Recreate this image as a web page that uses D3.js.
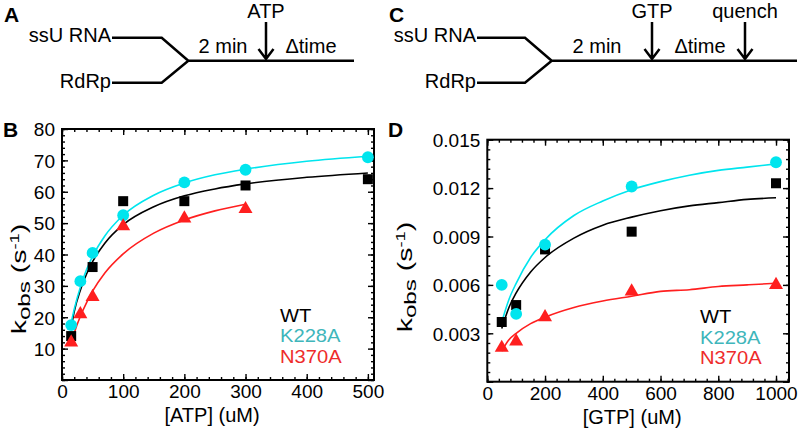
<!DOCTYPE html>
<html><head><meta charset="utf-8">
<script src="https://cdn.jsdelivr.net/npm/d3@7"></script>
<style>
html,body{margin:0;padding:0;background:#fff;}
svg text{font-family:"Liberation Sans",Arial,Helvetica,sans-serif;}
</style></head>
<body>
<svg id="chart" width="800" height="429"></svg>
<script>
// ---------- DATA ----------
const seriesNames = ["WT", "K228A", "N370A"];
// Panel B: [ATP] (uM) vs kobs (s-1)
const atpWT_x = [15, 50, 100, 200, 300, 500];
const atpWT_y = [14, 36, 57, 57, 62, 64];
const atpK228A_x = [15, 30, 50, 100, 200, 300, 500];
const atpK228A_y = [17.5, 31.5, 40.5, 52.5, 63, 67, 71];
const atpN370A_x = [15, 30, 50, 100, 200, 300];
const atpN370A_y = [12, 21, 26.5, 49, 51.5, 54.5];
// fitted curves
const atpFit_x = [15, 20, 30, 40, 50, 70, 100, 150, 200, 250, 300, 400, 500];
const atpFitWT_y = [16.5, 21.8, 28.6, 33.7, 37.7, 43.6, 49.5, 55.2, 58.7, 60.9, 62.5, 64.6, 66.0];
const atpFitK228A_y = [18.3, 22.6, 29.6, 35.1, 39.4, 45.9, 52.5, 58.9, 62.8, 65.4, 67.2, 69.7, 71.3];
const atpFitN370A_x = [15, 20, 30, 40, 50, 70, 100, 150, 200, 250, 300];
const atpFitN370A_y = [11.9, 15.0, 20.3, 24.6, 28.3, 34.1, 40.2, 46.8, 51.0, 53.9, 56.0];
const atpXTicks = [0, 100, 200, 300, 400, 500];
const atpYTicks = [10, 20, 30, 40, 50, 60, 70, 80];

// Panel D: [GTP] (uM) vs kobs (s-1)
const gtp_x = [50, 100, 200, 500, 1000];
const gtpWT_y = [0.0037, 0.00475, 0.0082, 0.0093, 0.0123];
const gtpK228A_y = [0.0060, 0.0042, 0.0085, 0.0121, 0.0136];
const gtpN370A_y = [0.0021, 0.0025, 0.0040, 0.0056, 0.0060];
const gtpFit_x = [50, 75, 100, 150, 200, 300, 400, 500, 600, 700, 800, 900, 1000];
const gtpFitWT_y = [0.0033, 0.0046, 0.0055, 0.0068, 0.0077, 0.0089, 0.0097, 0.0102, 0.0106, 0.0109, 0.0111, 0.0113, 0.0114];
const gtpFitK228A_y = [0.0037, 0.0051, 0.0061, 0.0077, 0.0088, 0.0103, 0.0112, 0.0119, 0.0124, 0.0128, 0.0131, 0.0133, 0.0135];
const gtpFitN370A_y = [0.0019, 0.0026, 0.0030, 0.0036, 0.0040, 0.0046, 0.0050, 0.0053, 0.0056, 0.0057, 0.0059, 0.0060, 0.0061];
const gtpXTicks = [0, 200, 400, 600, 800, 1000];
const gtpYTicks = [0.003, 0.006, 0.009, 0.012, 0.015];

// ---------- STYLE ----------
const colWT = "#000000", colK = "#00e5ee", colN = "#ff1f1f";
const legendCols = ["#000000", "#3fb6bb", "#ee2b2b"];

const svg = d3.select("#chart");
svg.append("rect").attr("width", 800).attr("height", 429).attr("fill", "#fff");

// ---------- SCHEMES (A, C) ----------
function scheme(g, o) {
  const sw = 2.5;
  g.append("text").text(o.letter).attr("x", o.lx).attr("y", 22)
    .attr("font-size", 21).attr("font-weight", "bold");
  g.append("text").text("ssU RNA").attr("x", o.tx).attr("y", 42)
    .attr("text-anchor", "end").attr("font-size", 20);
  g.append("text").text("RdRp").attr("x", o.tx).attr("y", 88)
    .attr("text-anchor", "end").attr("font-size", 20);
  const p = d3.path();
  p.moveTo(o.tx + 1, 37.7); p.lineTo(o.bx, 37.7); p.lineTo(o.jx, 60.7);
  p.moveTo(o.tx + 1, 82.7); p.lineTo(o.bx, 82.7); p.lineTo(o.jx, 60.7);
  p.lineTo(o.ex, 60.7);
  g.append("path").attr("d", p.toString()).attr("fill", "none")
    .attr("stroke", "#000").attr("stroke-width", sw).attr("stroke-linejoin", "miter");
  g.append("text").text("2 min").attr("x", o.minx).attr("y", 53)
    .attr("text-anchor", "middle").attr("font-size", 20);
  g.append("text").text("\u0394time").attr("x", o.dtx).attr("y", 53)
    .attr("text-anchor", "middle").attr("font-size", 20);
  o.arrows.forEach(a => {
    g.append("text").text(a.label).attr("x", a.x).attr("y", 17.5)
      .attr("text-anchor", "middle").attr("font-size", 20);
    const q = d3.path();
    q.moveTo(a.x, 22); q.lineTo(a.x, 59);
    q.moveTo(a.x - 7.5, 49); q.lineTo(a.x, 59); q.lineTo(a.x + 7.5, 49);
    g.append("path").attr("d", q.toString()).attr("fill", "none")
      .attr("stroke", "#000").attr("stroke-width", sw);
  });
}
scheme(svg.append("g"), {letter: "A", lx: 4, tx: 111, bx: 161.7, jx: 188.3, ex: 354,
  minx: 223, dtx: 311, arrows: [{label: "ATP", x: 266}]});
scheme(svg.append("g"), {letter: "C", lx: 389, tx: 476, bx: 525, jx: 551.7, ex: 797,
  minx: 597, dtx: 700, arrows: [{label: "GTP", x: 652}, {label: "quench", x: 745}]});

// ---------- PLOTS (B, D) ----------
function plot(o) {
  const g = svg.append("g");
  const x = d3.scaleLinear().domain(o.xDomain).range([o.left, o.right]);
  const y = d3.scaleLinear().domain(o.yDomain).range([o.bottom, o.top]);
  const fs = 19;
  const addAxis = (axisFn, scale, vals, size, tx, ty, labels, fmt) => {
    const ax = axisFn(scale).tickValues(vals).tickSizeInner(size).tickSizeOuter(0)
      .tickFormat(labels ? fmt : "");
    const a = g.append("g").attr("transform", `translate(${tx},${ty})`).call(ax);
    a.select(".domain").remove();
    a.selectAll(".tick line").attr("stroke", "#000").attr("stroke-width", 1.4);
    a.selectAll("text").attr("font-size", fs).attr("fill", "#000")
      .attr("font-family", "Liberation Sans, Arial, sans-serif");
    return a;
  };
  const xMinor = d3.range(o.xDomain[0], o.xDomain[1] + 1e-9, o.xMinorStep).map(v => +v.toFixed(6));
  const yMinor = d3.range(0, o.yDomain[1] + 1e-12, o.yMinorStep).map(v => +v.toFixed(8));
  const xMajor = o.xTicks, yMajor = [0].concat(o.yTicks);
  addAxis(d3.axisBottom, x, xMinor, -3, 0, o.bottom, false);
  addAxis(d3.axisTop, x, xMinor, -3, 0, o.top, false);
  addAxis(d3.axisLeft, y, yMinor, -3, o.left, 0, false);
  addAxis(d3.axisRight, y, yMinor, -3, o.right, 0, false);
  const bx = addAxis(d3.axisBottom, x, xMajor, -6, 0, o.bottom, true, d3.format("d"));
  bx.selectAll("text").attr("dy", null).attr("y", o.xLabelOff);
  addAxis(d3.axisTop, x, xMajor, -6, 0, o.top, false);
  const ly = addAxis(d3.axisLeft, y, o.yTicks, -6, o.left, 0, true, o.yFmt);
  ly.selectAll("text").attr("x", -7).attr("dy", "0.36em");
  addAxis(d3.axisLeft, y, [0], -6, o.left, 0, false);
  addAxis(d3.axisRight, y, yMajor, -6, o.right, 0, false);
  // frame
  g.append("rect").attr("x", o.left).attr("y", o.top)
    .attr("width", o.right - o.left).attr("height", o.bottom - o.top)
    .attr("fill", "none").attr("stroke", "#000").attr("stroke-width", 2);

  // curves
  const line = d3.line().x(d => x(d[0])).y(d => y(d[1])).curve(d3.curveMonotoneX);
  o.fits.forEach(f => {
    g.append("path").datum(d3.zip(f.x, f.y)).attr("d", line)
      .attr("fill", "none").attr("stroke", f.color).attr("stroke-width", 1.6);
  });
  // markers
  o.points.forEach(s => {
    const sym = d3.symbol().type(s.type).size(s.size);
    g.selectAll(null).data(d3.zip(s.x, s.y)).join("path")
      .attr("d", sym).attr("fill", s.color)
      .attr("transform", d => `translate(${x(d[0])},${y(d[1])})`);
  });

  // axis titles
  g.append("text").text(o.xTitle).attr("x", (o.left + o.right) / 2 - 6).attr("y", o.bottom + 42)
    .attr("text-anchor", "middle").attr("font-size", 20);
  const yt = g.append("text")
    .attr("transform", `translate(${o.yTitleX},${o.yTitleY}) rotate(-90) scale(1.42,1)`)
    .attr("text-anchor", "middle").attr("font-size", 20);
  yt.append("tspan").text("k");
  yt.append("tspan").text("obs").attr("font-size", 17).attr("dy", 4);
  yt.append("tspan").text(" (s").attr("dy", -4);
  yt.append("tspan").text("-1").attr("font-size", 13).attr("dy", -7);
  yt.append("tspan").text(")").attr("dy", 7);

  // panel letter
  g.append("text").text(o.letter).attr("x", o.letterX).attr("y", 137)
    .attr("font-size", 21).attr("font-weight", "bold");

  // legend
  seriesNames.forEach((n, i) => {
    g.append("text").text(n)
      .attr("transform", `translate(${o.legX},${o.legY + i * 20.5}) scale(1.12,1)`)
      .attr("font-size", 18).attr("fill", legendCols[i]);
  });
}

plot({
  letter: "B", letterX: 3, left: 62, right: 374, top: 129, bottom: 380,
  xDomain: [0, 510], yDomain: [0, 80], xMinorStep: 20, yMinorStep: 2,
  xTicks: atpXTicks, yTicks: atpYTicks, yFmt: d3.format("d"), xLabelOff: 18,
  xTitle: "[ATP] (uM)", yTitleX: 26, yTitleY: 279, legX: 280, legY: 321.5,
  fits: [
    {x: atpFit_x, y: atpFitWT_y, color: colWT},
    {x: atpFit_x, y: atpFitK228A_y, color: colK},
    {x: atpFitN370A_x, y: atpFitN370A_y, color: colN}
  ],
  points: [
    {x: atpWT_x, y: atpWT_y, color: colWT, type: d3.symbolSquare, size: 100},
    {x: atpK228A_x, y: atpK228A_y, color: colK, type: d3.symbolCircle, size: 110},
    {x: atpN370A_x, y: atpN370A_y, color: colN, type: d3.symbolTriangle, size: 85}
  ]
});

plot({
  letter: "D", letterX: 388, left: 487.3, right: 789, top: 139.7, bottom: 381.7,
  xDomain: [0, 1045], yDomain: [0, 0.015], xMinorStep: 40, yMinorStep: 0.0006,
  xTicks: gtpXTicks, yTicks: gtpYTicks, yFmt: d3.format(".3f"), xLabelOff: 18,
  xTitle: "[GTP] (uM)", yTitleX: 412, yTitleY: 277, legX: 700, legY: 323,
  fits: [
    {x: gtpFit_x, y: gtpFitWT_y, color: colWT},
    {x: gtpFit_x, y: gtpFitK228A_y, color: colK},
    {x: gtpFit_x, y: gtpFitN370A_y, color: colN}
  ],
  points: [
    {x: gtp_x, y: gtpWT_y, color: colWT, type: d3.symbolSquare, size: 100},
    {x: gtp_x, y: gtpK228A_y, color: colK, type: d3.symbolCircle, size: 110},
    {x: gtp_x, y: gtpN370A_y, color: colN, type: d3.symbolTriangle, size: 85}
  ]
});
</script>
</body></html>
